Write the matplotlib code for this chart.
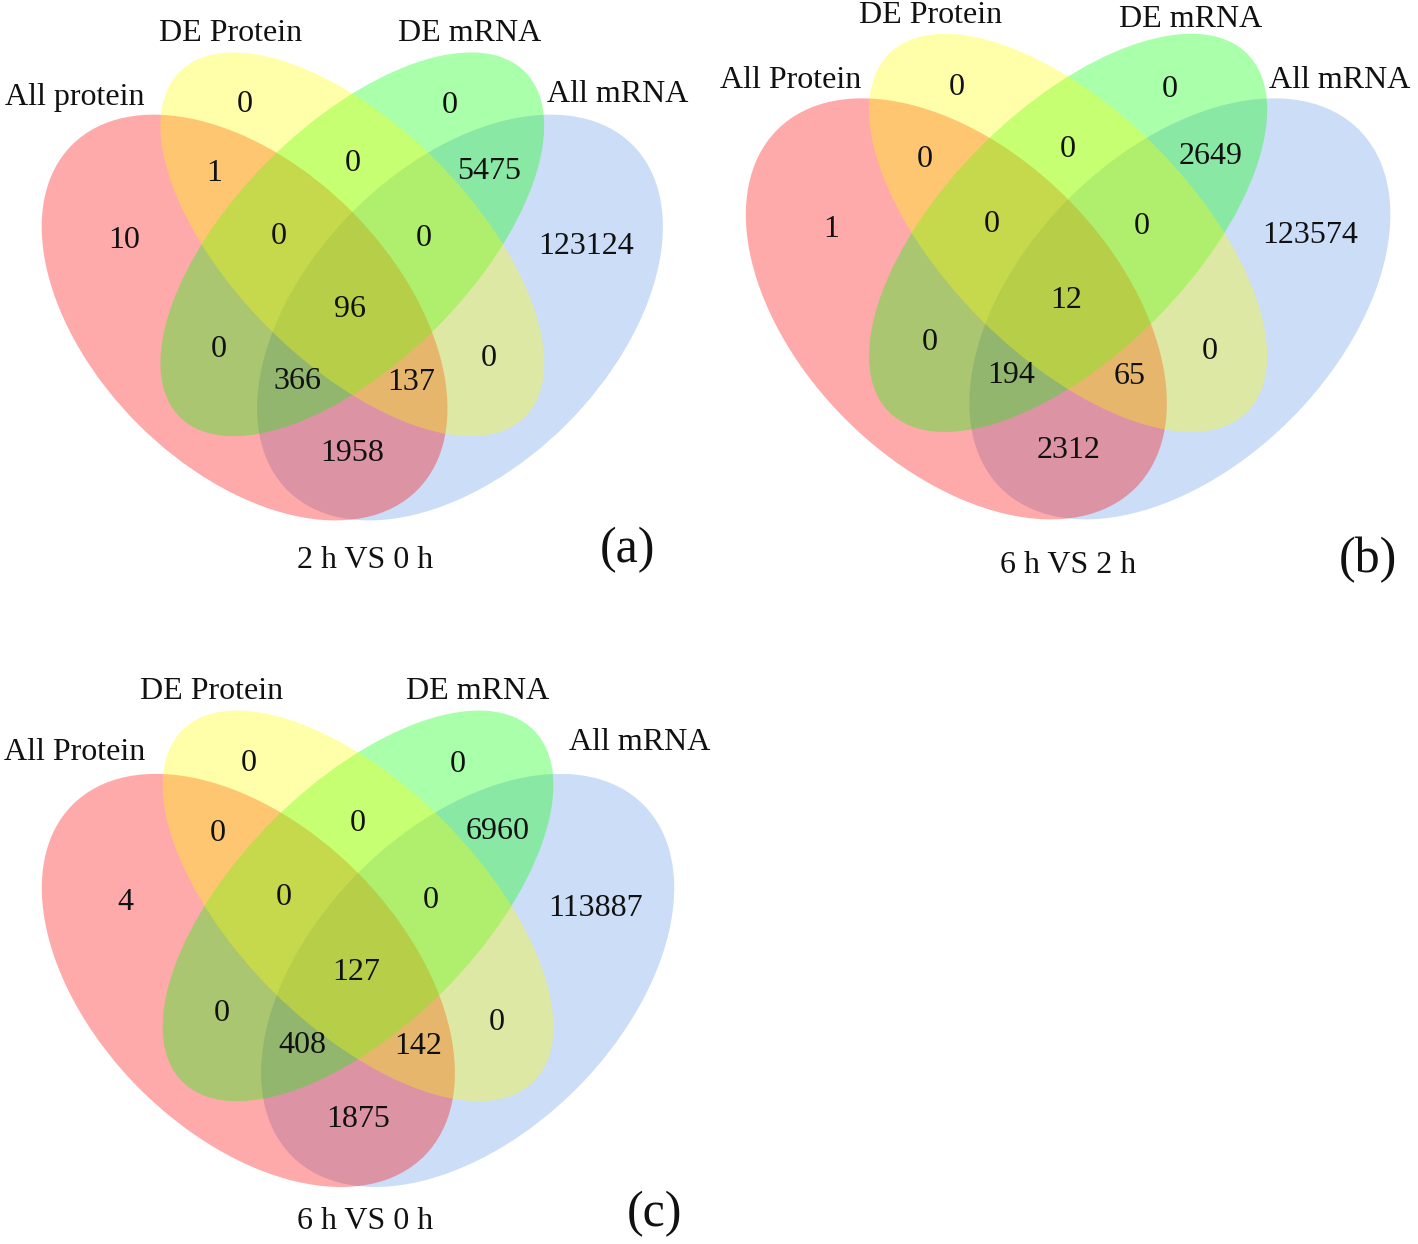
import matplotlib.pyplot as plt
from matplotlib.patches import Ellipse

# Данные: числа в областях диаграммы, порядок областей:
# R, Y, G, B, RY, YG, GB, RYG, YGB, RYGB, RG, YB, RGB, RYB, RB
counts_a = [10, 0, 0, 123124, 1, 0, 5475, 0, 0, 96, 0, 0, 366, 137, 1958]
counts_b = [1, 0, 0, 123574, 0, 0, 2649, 0, 0, 12, 0, 0, 194, 65, 2312]
counts_c = [4, 0, 0, 113887, 0, 0, 6960, 0, 0, 127, 0, 0, 408, 142, 1875]

sets_a = ['All protein', 'DE Protein', 'DE mRNA', 'All mRNA']
sets_b = ['All Protein', 'DE Protein', 'DE mRNA', 'All mRNA']
sets_c = ['All Protein', 'DE Protein', 'DE mRNA', 'All mRNA']

titles = ['2 h VS 0 h', '6 h VS 2 h', '6 h VS 0 h']
tags = ['(a)', '(b)', '(c)']

# Геометрия эллипсов (в единичном квадрате): центр, ширина, высота, угол
ELLIPSES = {
    'R': ((0.35, 0.47), 0.68, 0.42, -45),
    'Y': ((0.50, 0.572), 0.68, 0.33, -45),
    'G': ((0.50, 0.572), 0.68, 0.33, 45),
    'B': ((0.65, 0.47), 0.68, 0.42, 45),
}
COLORS = {'R': '#FF0000', 'Y': '#FFFF00', 'G': '#00FF00', 'B': '#6699E7'}
DRAW_ORDER = ['B', 'R', 'G', 'Y']

# Позиции подписей областей
REGION_POS = [
    (0.182, 0.577), (0.350, 0.767), (0.636, 0.765), (0.825, 0.569),
    (0.308, 0.671), (0.500, 0.684), (0.691, 0.674),
    (0.398, 0.583), (0.599, 0.580), (0.497, 0.481),
    (0.314, 0.425), (0.690, 0.413),
    (0.424, 0.381), (0.582, 0.379), (0.500, 0.280),
]

# Расположение панелей в пикселях: x0, y0 (низ квадрата), масштаб
PANELS = [(-6.7, 655, 718), (695.6, 659, 745), (-7.5, 1324, 731)]

# Подписи множеств, заголовок, буква панели (u, v)
LABEL_POS = [
    [(0.114, 0.776), (0.330, 0.866), (0.664, 0.866), (0.869, 0.780), (0.518, 0.132), (0.883, 0.146)],
    [(0.127, 0.777), (0.315, 0.864), (0.664, 0.858), (0.865, 0.777), (0.500, 0.126), (0.903, 0.133)],
    [(0.113, 0.782), (0.300, 0.865), (0.663, 0.865), (0.886, 0.795), (0.510, 0.140), (0.906, 0.150)],
]

W, H = 1418, 1244
plt.rcParams['font.family'] = ['Liberation Serif', 'DejaVu Serif']


def draw_venn(fig, panel, counts, names, title, tag, lpos):
    x0, y0, s = panel
    ax = fig.add_axes([x0 / W, (H - y0) / H, s / W, s / H])
    ax.set_xlim(0, 1)
    ax.set_ylim(0, 1)
    ax.axis('off')

    for key in DRAW_ORDER:
        (cx, cy), w, h, ang = ELLIPSES[key]
        ax.add_patch(Ellipse((cx, cy), w, h, angle=ang,
                             facecolor=COLORS[key], edgecolor='none', alpha=1 / 3))

    for value, (u, v) in zip(counts, REGION_POS):
        ax.text(u, v, str(value), ha='center', va='center', fontsize=23, color='#111111')

    for name, (u, v) in zip(names, lpos[:4]):
        ax.text(u, v, name, ha='center', va='center', fontsize=23, color='#111111')

    ax.text(lpos[4][0], lpos[4][1], title, ha='center', va='center', fontsize=23, color='#111111')
    ax.text(lpos[5][0], lpos[5][1], tag, ha='center', va='center', fontsize=36, color='#111111')


fig = plt.figure(figsize=(W / 100, H / 100), dpi=100)
all_counts = [counts_a, counts_b, counts_c]
all_sets = [sets_a, sets_b, sets_c]
for i in range(3):
    draw_venn(fig, PANELS[i], all_counts[i], all_sets[i], titles[i], tags[i], LABEL_POS[i])

fig.savefig('out.png', dpi=100, facecolor='white')
